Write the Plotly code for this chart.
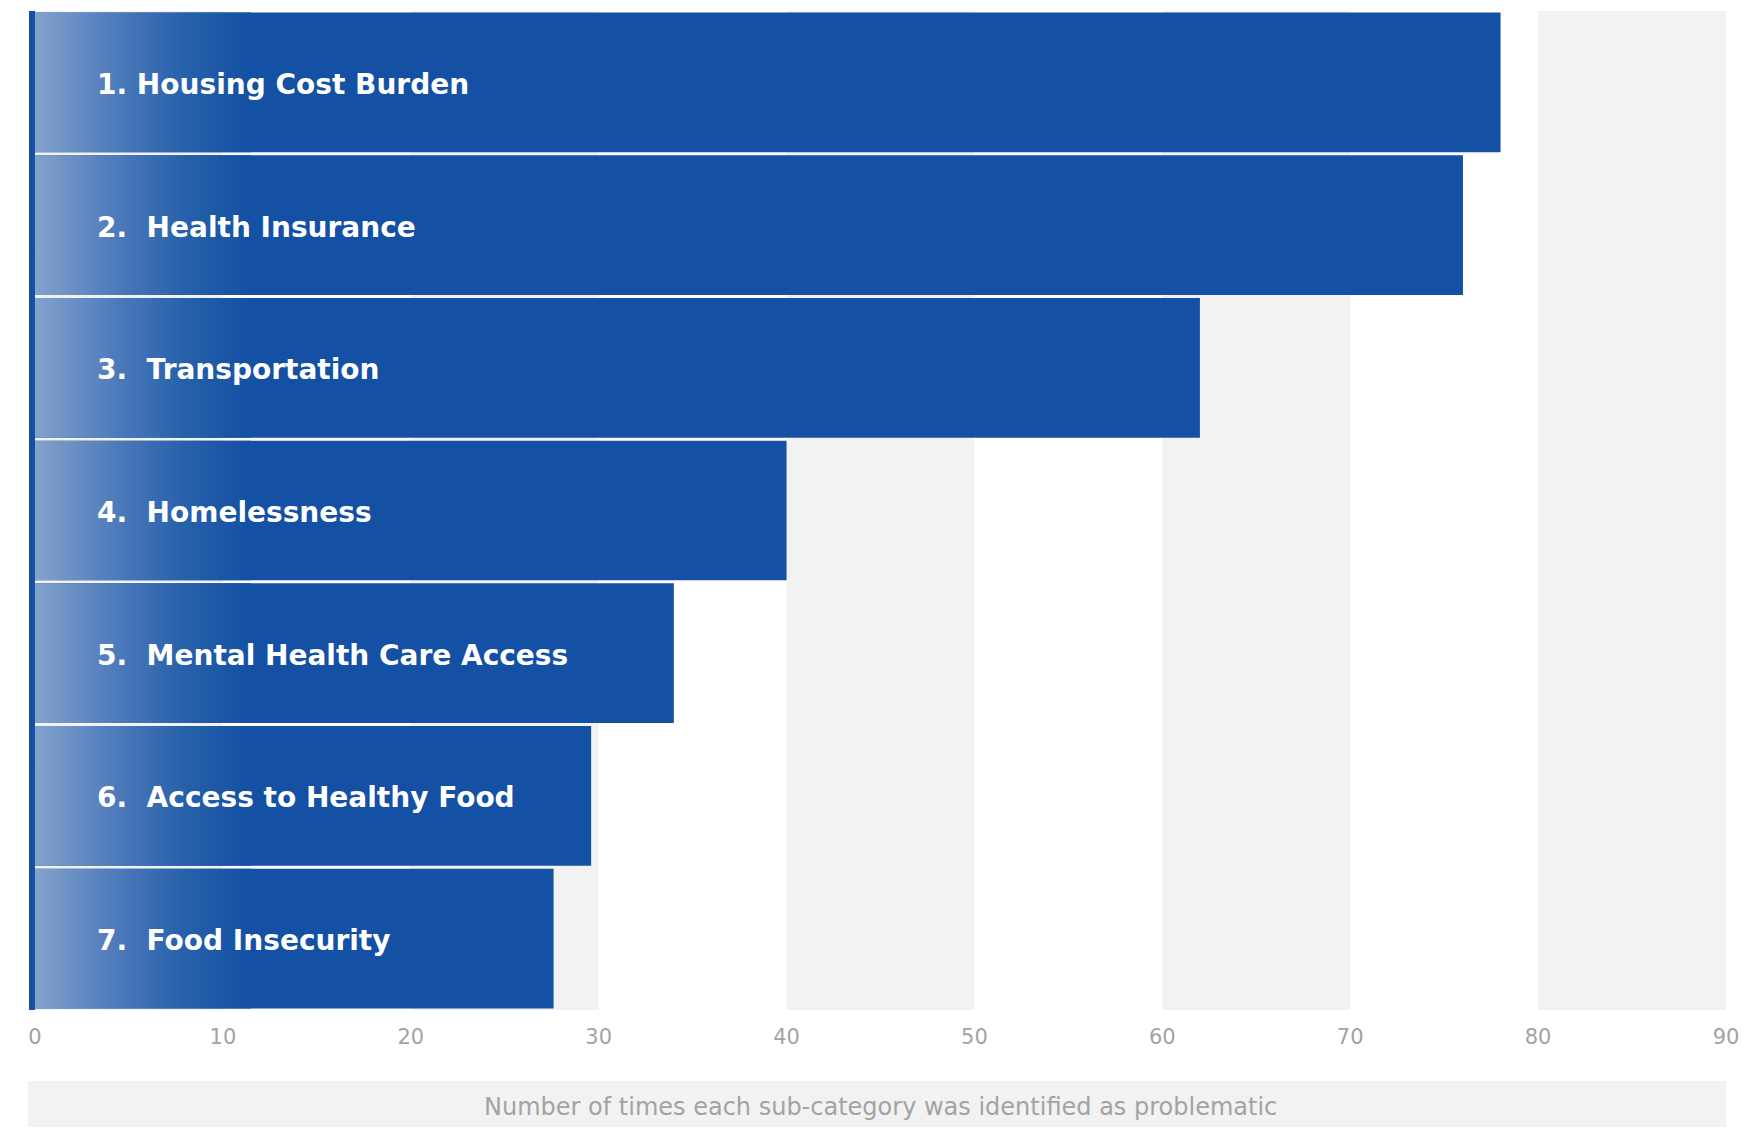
import plotly.graph_objects as go

# sub-categories, ranked, and how often each was flagged
categories = [
  "1. Housing Cost Burden",
  "2.\u00a0 Health Insurance",
  "3.\u00a0 Transportation",
  "4.\u00a0 Homelessness",
  "5.\u00a0 Mental Health Care Access",
  "6.\u00a0 Access to Healthy Food",
  "7.\u00a0 Food Insecurity",
]
counts = [78, 76, 62, 40, 34, 29.6, 27.6]
x_ticks = [0, 10, 20, 30, 40, 50, 60, 70, 80, 90]
axis_title = "Number of times each sub-category was identified as problematic"

BLUE = "#1450a3"
BAND = "#f2f2f2"
GREY_TEXT = "#a3a3a3"
GRAD_END = 11.5  # where the light-to-dark fade on each bar finishes (x units)
GAP = 0.021      # white gap between bars, as a fraction of a row

rows = list(range(len(categories)))
half = (1 - GAP) / 2

fig = go.Figure()

fig.add_trace(go.Bar(
  x=counts,
  y=rows,
  orientation="h",
  marker=dict(color=BLUE, line=dict(width=0)),
  hoverinfo="skip",
))

# gradient overlay on the left end of every bar
gx, gy = [], []
for r in rows:
  gx += [0, GRAD_END, GRAD_END, 0, 0, None]
  gy += [r - half, r - half, r + half, r + half, r - half, None]

fig.add_trace(go.Scatter(
  x=gx, y=gy,
  mode="lines",
  line=dict(width=0),
  fill="toself",
  fillgradient=dict(
    type="horizontal",
    start=0,
    stop=GRAD_END,
    colorscale=[[0, "#84a2ce"], [0.4, "#4a78b9"], [0.7, "#2660aa"], [1, BLUE]],
  ),
  hoverinfo="skip",
))

# alternating grey bands behind the bars
shapes = []
for i in range(0, len(x_ticks) - 1, 2):
  shapes.append(dict(
    type="rect", xref="x", yref="paper",
    x0=x_ticks[i], x1=x_ticks[i + 1], y0=0, y1=1,
    fillcolor=BAND, line=dict(width=0), layer="below",
  ))

# grey box holding the axis title
shapes.append(dict(
  type="rect", xref="paper", yref="paper",
  x0=-0.0041, x1=1.0, y0=-0.12, y1=-0.071,
  fillcolor=BAND, line=dict(width=0), layer="below",
))

annotations = []
for r, name in zip(rows, categories):
  annotations.append(dict(
    x=0, y=r, xref="x", yref="y",
    text=name, showarrow=False,
    xanchor="left", xshift=60, yshift=-2,
    font=dict(family="DejaVu Sans", size=28, color="white", weight="bold"),
  ))

annotations.append(dict(
  x=0.5, y=-0.0971, xref="paper", yref="paper",
  text=axis_title, showarrow=False,
  xanchor="center", yanchor="middle",
  font=dict(family="DejaVu Sans", size=24, color=GREY_TEXT),
))

# the page body adds an 8px margin, so the figure is sized a little under the window
fig.update_layout(
  width=1739,
  height=1119,
  margin=dict(l=27, r=21, t=3, b=117),
  paper_bgcolor="white",
  plot_bgcolor="white",
  showlegend=False,
  bargap=GAP,
  shapes=shapes,
  annotations=annotations,
)

fig.update_xaxes(
  range=[0, 90],
  tickvals=x_ticks,
  showgrid=False,
  zeroline=False,
  showline=False,
  ticks="",
  ticklabelstandoff=12,
  tickfont=dict(family="DejaVu Sans", size=21, color=GREY_TEXT),
)

fig.update_yaxes(
  range=[len(categories) - 0.5, -0.5],
  showticklabels=False,
  showgrid=False,
  zeroline=False,
  showline=True,
  linecolor=BLUE,
  linewidth=6,
  ticks="",
)

fig.write_html("out.html")
